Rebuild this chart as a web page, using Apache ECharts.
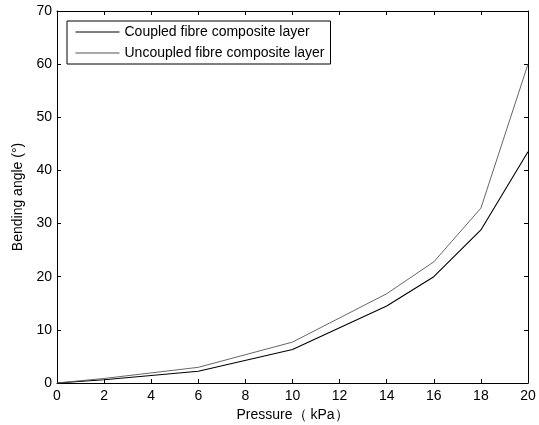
<!DOCTYPE html>
<html>
<head>
<meta charset="utf-8">
<script src="https://cdn.jsdelivr.net/npm/echarts@6/dist/echarts.min.js"></script>
<style>html,body{margin:0;padding:0;background:#fff;}#c{width:539px;height:425px;}</style>
</head>
<body>
<div id="c"></div>
<script>
const pressure = [0, 2, 6, 10, 14, 16, 18, 20];
const coupled = [0, 0.6, 2.2, 6.3, 14.5, 20.0, 28.8, 43.5];
const uncoupled = [0, 0.85, 2.95, 7.7, 16.8, 22.8, 32.9, 60.0];
const seriesNames = ['Coupled fibre composite layer', 'Uncoupled fibre composite layer'];
const xLabel = 'Pressure\uFF08 kPa\uFF09';
const yLabel = 'Bending angle (\u00B0)';

const font = 'Liberation Sans, Arial, Helvetica, sans-serif';
const chart = echarts.init(document.getElementById('c'), null, {renderer: 'canvas'});
const pairs = (ys) => pressure.map((x, i) => [x, ys[i]]);
const axisCommon = {
  type: 'value',
  axisLine: {show: true, onZero: false, lineStyle: {color: '#000', width: 1}},
  axisTick: {show: true, inside: true, length: 4, lineStyle: {color: '#000'}},
  splitLine: {show: false}
};
chart.setOption({
  animation: false,
  backgroundColor: '#fff',
  grid: {left: 57, right: 11, top: 11, bottom: 42, containLabel: false, outerBoundsMode: 'none'},
  legend: {
    show: true,
    orient: 'vertical',
    left: 67, top: 21,
    backgroundColor: '#fff',
    borderColor: '#000', borderWidth: 1,
    padding: [4, 6, 4, 8],
    itemWidth: 44, itemHeight: 14, itemGap: 7,
    itemStyle: {opacity: 0},
    lineStyle: {width: 1},
    textStyle: {fontFamily: font, fontSize: 14, color: '#000'},
    data: seriesNames
  },
  xAxis: [
    Object.assign({}, axisCommon, {
      min: 0, max: 20, interval: 2, position: 'bottom',
      name: xLabel, nameLocation: 'middle', nameGap: 20,
      nameTextStyle: {fontFamily: font, fontSize: 14, color: '#000'},
      axisLabel: {fontFamily: font, fontSize: 14, color: '#000', margin: 6}
    }),
    Object.assign({}, axisCommon, {
      min: 0, max: 20, interval: 2, position: 'top',
      axisLabel: {show: false}
    })
  ],
  yAxis: [
    Object.assign({}, axisCommon, {
      min: 0, max: 70, interval: 10, position: 'left',
      name: yLabel, nameLocation: 'middle', nameGap: 27,
      nameTextStyle: {fontFamily: font, fontSize: 14, color: '#000'},
      axisLabel: {fontFamily: font, fontSize: 14, color: '#000', margin: 5}
    }),
    Object.assign({}, axisCommon, {
      min: 0, max: 70, interval: 10, position: 'right',
      axisLabel: {show: false}
    })
  ],
  series: [
    {
      name: seriesNames[0], type: 'line', xAxisIndex: 0, yAxisIndex: 0,
      data: pairs(coupled), showSymbol: false, symbol: 'none',
      lineStyle: {color: '#000', width: 1.1}, itemStyle: {color: '#000'}
    },
    {
      name: seriesNames[1], type: 'line', xAxisIndex: 0, yAxisIndex: 0,
      data: pairs(uncoupled), showSymbol: false, symbol: 'none',
      lineStyle: {color: '#555', width: 0.9}, itemStyle: {color: '#555'}
    }
  ]
});
</script>
</body>
</html>
